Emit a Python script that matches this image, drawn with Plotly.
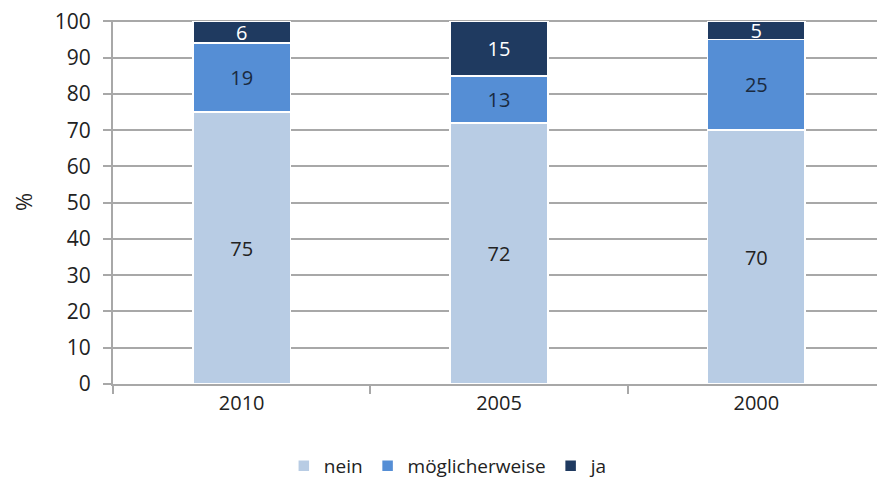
import plotly.graph_objects as go

years = ["2010", "2005", "2000"]
nein = [75, 72, 70]
moeglich = [19, 13, 25]
ja = [6, 15, 5]
y_ticks = [0, 10, 20, 30, 40, 50, 60, 70, 80, 90, 100]

font = "Open Sans"
fig = go.Figure()
series = [
    ("nein", nein, "#b8cce4", "#222222"),
    ("möglicherweise", moeglich, "#558ed5", "#1a2a40"),
    ("ja", ja, "#1f3a60", "#ffffff"),
]
for name, vals, col, tcol in series:
    fig.add_trace(go.Bar(
        x=years, y=vals, name=name,
        marker=dict(color=col, line=dict(color="white", width=1.5)),
        text=[str(v) for v in vals], textposition="inside", insidetextanchor="middle",
        textangle=0, constraintext="none",
        textfont=dict(color=tcol, size=20, family=font),
        cliponaxis=False,
    ))

fig.update_layout(
    barmode="stack", bargap=0.62,
    width=877, height=474,
    margin=dict(l=105, r=0, t=12, b=98, autoexpand=False),
    plot_bgcolor="white", paper_bgcolor="white",
    font=dict(family=font, size=19, color="#222222"),
    legend=dict(orientation="h", x=0.435, xanchor="center", y=-0.225, yanchor="middle",
                font=dict(size=19, family=font), itemwidth=30, traceorder="normal"),
    showlegend=True,
)
fig.update_yaxes(
    range=[0, 100.4], tickvals=y_ticks, showgrid=True, gridcolor="#a8a8a8", gridwidth=2,
    showline=True, linecolor="#a8a8a8", linewidth=2, ticks="outside", ticklen=8,
    tickcolor="#a8a8a8", tickwidth=2, zeroline=False, automargin=False,
    tickfont=dict(size=21), ticklabelstandoff=8, ticklabeloverflow="allow",
    title=dict(text="%", standoff=40, font=dict(size=22)),
)
fig.update_xaxes(
    showline=True, linecolor="#a8a8a8", linewidth=2, ticks="outside", ticklen=8,
    tickson="boundaries", tickcolor="#a8a8a8", tickwidth=2, showgrid=False,
    automargin=False, tickfont=dict(size=20),
)
fig.write_html("out.html")
